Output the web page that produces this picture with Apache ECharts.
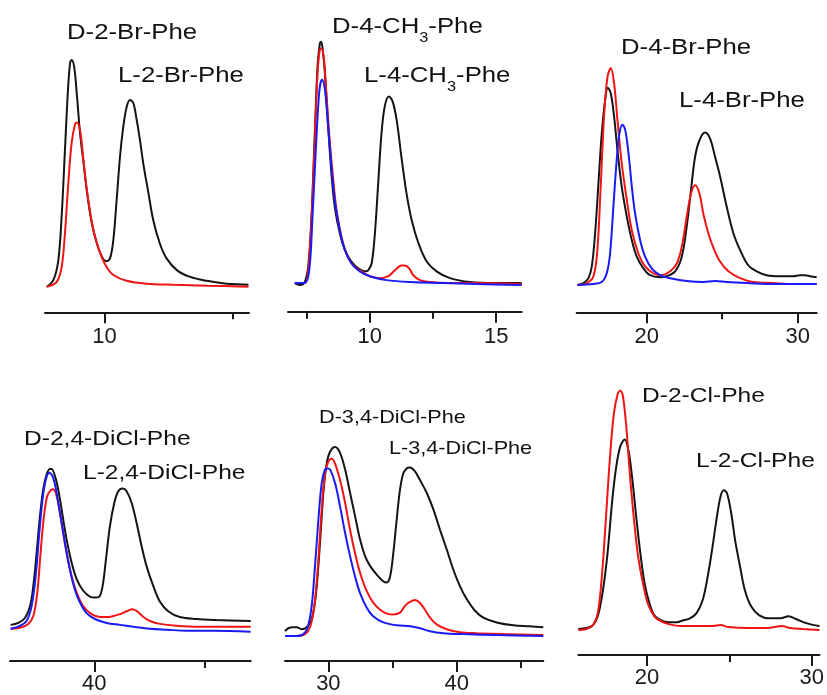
<!DOCTYPE html>
<html><head><meta charset="utf-8">
<script src="https://cdn.jsdelivr.net/npm/echarts@6/dist/echarts.min.js"></script>
<style>html,body{margin:0;padding:0;background:#fff}#c{width:827px;height:695px}</style>
</head><body><div id="c"></div>
<script>
// ---------- DATA (retention time, detector response) ----------
const p1Black = [[7.75,0],[8.01,7],[8.20,27],[8.33,72],[8.46,140],[8.57,198],[8.66,229],[8.72,232],[8.82,225],[8.92,198],[9.05,157],[9.18,128],[9.34,93],[9.51,65],[9.70,45],[9.90,31],[10.07,26],[10.22,29],[10.35,48],[10.48,89],[10.61,133],[10.74,164],[10.87,184],[11.00,191],[11.13,188],[11.26,171],[11.39,150],[11.52,126],[11.72,96],[11.91,68],[12.17,44],[12.43,29],[12.83,17],[13.35,10],[14.00,6],[14.78,3],[15.63,2]];
const p1Red = [[7.75,0],[8.14,5],[8.33,20],[8.46,55],[8.59,106],[8.72,147],[8.85,166],[8.92,168],[9.05,160],[9.18,130],[9.31,100],[9.51,66],[9.70,45],[9.90,30],[10.09,20],[10.35,12],[10.87,6],[11.65,3],[12.70,2],[14.00,1],[15.63,0]];

const p2Black = [[7.03,2],[7.23,0],[7.42,3],[7.56,19],[7.69,70],[7.82,155],[7.93,224],[8.02,247],[8.06,249],[8.12,244],[8.22,217],[8.35,162],[8.48,114],[8.61,80],[8.81,53],[9.01,36],[9.27,24],[9.54,17],[9.80,14],[9.93,15],[10.07,22],[10.20,53],[10.33,104],[10.46,155],[10.59,183],[10.75,193],[10.90,188],[11.06,169],[11.25,131],[11.45,94],[11.65,67],[11.92,43],[12.25,24],[12.64,14],[13.17,7],[13.96,3],[15.02,2],[16.01,2]];
const p2Red = [[7.03,2],[7.42,2],[7.56,15],[7.69,67],[7.82,148],[7.93,217],[8.02,241],[8.08,242],[8.18,232],[8.28,196],[8.41,148],[8.55,108],[8.68,77],[8.88,49],[9.08,32],[9.34,20],[9.67,14],[10.00,9],[10.40,7],[10.73,9],[10.99,15],[11.25,20],[11.39,20],[11.56,17],[11.72,10],[11.98,5],[12.38,3],[13.17,2],[14.23,2],[16.01,1]];
const p2Blue = [[7.03,2],[7.42,2],[7.60,15],[7.73,70],[7.86,138],[7.97,189],[8.04,206],[8.11,210],[8.22,200],[8.35,162],[8.48,121],[8.61,87],[8.81,56],[9.01,36],[9.27,22],[9.60,14],[10.00,9],[10.66,5],[11.59,3],[12.91,2],[14.23,1],[16.01,0]];

const p3Black = [[15.41,0],[15.81,2],[16.14,7],[16.36,19],[16.58,53],[16.80,104],[17.02,155],[17.24,189],[17.42,202],[17.62,196],[17.84,172],[18.06,138],[18.34,101],[18.68,70],[19.01,46],[19.34,29],[19.78,17],[20.22,10],[20.88,8],[21.32,9],[21.88,14],[22.32,29],[22.65,60],[22.91,94],[23.20,131],[23.49,148],[23.86,156],[24.19,150],[24.53,131],[24.86,111],[25.30,80],[25.74,53],[26.18,36],[26.73,20],[27.28,14],[27.95,10],[28.83,9],[29.71,9],[30.15,10],[30.49,10],[30.82,9],[31.26,8]];
const p3Red = [[15.41,0],[16.03,2],[16.47,9],[16.73,36],[16.95,101],[17.17,172],[17.40,213],[17.62,222],[17.84,206],[18.06,169],[18.34,125],[18.68,87],[19.01,56],[19.45,32],[19.89,19],[20.44,12],[20.99,10],[21.55,14],[21.99,22],[22.32,39],[22.65,70],[22.94,94],[23.20,102],[23.49,94],[23.75,73],[24.08,53],[24.42,38],[24.86,24],[25.41,14],[26.18,7],[27.06,3],[28.39,2],[29.71,1],[31.26,1]];
const p3Blue = [[15.41,0],[16.47,1],[17.02,3],[17.35,12],[17.57,32],[17.79,80],[18.01,128],[18.19,155],[18.39,164],[18.57,159],[18.79,135],[19.01,101],[19.23,73],[19.56,46],[19.89,29],[20.33,17],[20.88,10],[21.55,7],[22.65,4],[23.75,3],[24.53,4],[25.30,3],[26.62,2],[28.61,1],[31.26,1]];

const p4Black = [[36.20,8],[36.55,10],[36.85,15],[37.08,27],[37.23,48],[37.38,82],[37.53,119],[37.68,147],[37.83,162],[37.98,168],[38.06,168],[38.26,157],[38.44,137],[38.59,116],[38.74,96],[38.97,72],[39.20,55],[39.50,43],[39.80,37],[40.03,36],[40.23,37],[40.38,48],[40.53,75],[40.71,109],[40.91,133],[41.09,145],[41.29,148],[41.47,145],[41.70,133],[41.92,113],[42.15,89],[42.38,68],[42.68,48],[42.98,32],[43.36,22],[43.89,16],[44.65,14],[45.56,13],[47.11,12]];
const p4Red = [[36.20,4],[36.62,5],[37.00,9],[37.23,17],[37.41,41],[37.56,82],[37.71,119],[37.86,140],[38.02,146],[38.14,147],[38.29,140],[38.44,123],[38.59,102],[38.74,82],[38.97,58],[39.20,41],[39.50,27],[39.88,19],[40.26,16],[40.56,16],[40.86,17],[41.17,19],[41.47,22],[41.74,24],[42.00,21],[42.23,16],[42.53,12],[42.98,9],[43.74,7],[44.80,6],[47.11,6]];
const p4Blue = [[36.20,4],[36.62,7],[36.92,12],[37.15,27],[37.35,61],[37.50,102],[37.65,137],[37.80,157],[37.95,164],[38.11,160],[38.26,147],[38.44,123],[38.67,92],[38.89,65],[39.12,44],[39.35,31],[39.65,20],[40.03,14],[40.56,10],[41.17,8],[41.77,6],[42.53,4],[43.29,3],[44.20,2],[45.41,2],[47.11,1]];

const p5Black = [[26.62,5],[26.88,8],[27.22,9],[27.53,9],[27.92,7],[28.31,9],[28.70,17],[29.04,44],[29.35,96],[29.61,147],[29.87,177],[30.13,189],[30.52,194],[30.91,188],[31.30,171],[31.69,147],[32.08,123],[32.47,99],[32.86,82],[33.25,72],[33.77,63],[34.29,56],[34.55,55],[34.81,61],[35.06,85],[35.32,119],[35.58,150],[35.84,167],[36.10,172],[36.36,173],[36.75,169],[37.14,160],[37.66,147],[38.18,130],[38.70,109],[39.22,89],[39.74,68],[40.26,51],[40.78,38],[41.43,26],[42.08,19],[43.12,14],[44.42,11],[45.71,10],[46.75,9]];
const p5Red = [[26.62,0],[27.53,0],[28.18,2],[28.57,9],[28.91,31],[29.22,78],[29.48,130],[29.74,167],[30.00,179],[30.26,182],[30.52,177],[30.91,160],[31.30,137],[31.69,109],[32.08,85],[32.47,65],[32.99,46],[33.51,34],[34.03,27],[34.55,23],[35.06,22],[35.58,24],[35.97,31],[36.36,35],[36.75,37],[37.14,34],[37.53,27],[37.92,19],[38.44,12],[39.22,7],[40.26,4],[41.56,3],[43.64,2],[46.75,1]];
const p5Blue = [[26.62,0],[27.53,0],[28.05,2],[28.39,9],[28.70,31],[28.96,72],[29.22,119],[29.48,157],[29.74,171],[29.92,172],[30.13,171],[30.52,157],[30.91,133],[31.30,106],[31.69,82],[32.08,61],[32.47,44],[32.99,29],[33.51,20],[34.29,14],[35.32,11],[36.36,10],[37.14,8],[37.92,5],[38.96,3],[40.52,2],[43.12,1],[46.75,0]];

const p6Black = [[15.84,1],[16.33,2],[16.73,5],[17.02,14],[17.31,38],[17.61,78],[17.90,133],[18.14,167],[18.39,188],[18.65,195],[18.88,184],[19.12,154],[19.37,113],[19.63,75],[19.86,48],[20.16,27],[20.45,15],[20.84,10],[21.33,8],[21.82,8],[22.22,10],[22.61,12],[23.00,17],[23.39,31],[23.69,55],[23.98,85],[24.22,113],[24.47,137],[24.67,143],[24.86,140],[25.12,119],[25.35,92],[25.65,65],[25.94,41],[26.33,24],[26.82,15],[27.41,12],[28.10,12],[28.59,14],[29.08,11],[29.67,7],[30.47,4]];
const p6Red = [[15.84,0],[16.33,1],[16.73,5],[17.02,17],[17.27,55],[17.51,113],[17.75,174],[18.00,222],[18.24,242],[18.39,245],[18.55,239],[18.75,208],[18.98,157],[19.24,109],[19.47,75],[19.76,48],[20.06,27],[20.45,14],[20.84,9],[21.33,6],[22.02,4],[23.00,4],[23.98,4],[24.47,5],[24.96,3],[26.14,2],[27.31,2],[28.20,4],[28.69,2],[29.47,1],[30.47,0]];

// tick labels (major, labelled) and minor ticks
const p1Major = [10], p1Minor = [15];
const p2Major = [10, 15], p2Minor = [7.5, 12.5];
const p3Major = [20, 30], p3Minor = [25];
const p4Major = [40], p4Minor = [45];
const p5Major = [30, 40], p5Minor = [35, 45];
const p6Major = [20, 30], p6Minor = [25];

// peak labels
const p1Names = ['D-2-Br-Phe', 'L-2-Br-Phe'];
const p2Names = ['D-4-CH3-Phe', 'L-4-CH3-Phe'];
const p3Names = ['D-4-Br-Phe', 'L-4-Br-Phe'];
const p4Names = ['D-2,4-DiCl-Phe', 'L-2,4-DiCl-Phe'];
const p5Names = ['D-3,4-DiCl-Phe', 'L-3,4-DiCl-Phe'];
const p6Names = ['D-2-Cl-Phe', 'L-2-Cl-Phe'];

// ---------- LAYOUT / STYLE ----------
const COL = { black: '#141414', red: '#f01414', blue: '#1a1af5' };
const FONT = '"Liberation Sans", Arial, Helvetica, sans-serif';
const PX = 0.977; // pixels per response unit
const panels = [
  { left: 45,    right: 249,   top: 0,   axisY: 312.3, baseY: 286.7, xmin: 7.68,  xmax: 15.65, major: p1Major, minor: p1Minor,
    lines: [[p1Black, 'black'], [p1Red, 'red']], names: p1Names, fs: 22, pos: [[67, 33], [118, 76]], lm: 14 },
  { left: 288,   right: 521.7, top: 0,   axisY: 311.7, baseY: 285,   xmin: 6.76,  xmax: 16.01, major: p2Major, minor: p2Minor,
    lines: [[p2Black, 'black'], [p2Red, 'red'], [p2Blue, 'blue']], names: p2Names, fs: 22, pos: [[332, 27], [364, 76]], lm: 14 },
  { left: 576.7, right: 816.7, top: 0,   axisY: 312.3, baseY: 285,   xmin: 15.36, xmax: 31.26, major: p3Major, minor: p3Minor,
    lines: [[p3Black, 'black'], [p3Red, 'red'], [p3Blue, 'blue']], names: p3Names, fs: 22, pos: [[621, 48], [679, 101]], lm: 14 },
  { left: 10,    right: 250.7, top: 350, axisY: 661.7, baseY: 633.3, xmin: 36.17, xmax: 47.11, major: p4Major, minor: p4Minor,
    lines: [[p4Black, 'black'], [p4Red, 'red'], [p4Blue, 'blue']], names: p4Names, fs: 21, pos: [[24, 439], [83, 473]], lm: 12 },
  { left: 285,   right: 543.3, top: 350, axisY: 661.7, baseY: 636.7, xmin: 26.62, xmax: 46.75, major: p5Major, minor: p5Minor,
    lines: [[p5Black, 'black'], [p5Red, 'red'], [p5Blue, 'blue']], names: p5Names, fs: 18.5, pos: [[319, 418], [389, 449]], lm: 12 },
  { left: 578.3, right: 827,   top: 350, axisY: 655,   baseY: 630,   xmin: 15.84, xmax: 30.47, major: p6Major, minor: p6Minor,
    lines: [[p6Black, 'black'], [p6Red, 'red']], names: p6Names, fs: 21, pos: [[642, 396], [696, 461]], lm: 12 }
];

const grid = [], xAxis = [], yAxis = [], series = [], graphic = [];
panels.forEach((p, i) => {
  grid.push({ left: p.left, top: p.top, width: p.right - p.left, height: p.axisY - p.top, containLabel: false });
  yAxis.push({ type: 'value', gridIndex: i, show: false, min: -(p.axisY - p.baseY) / PX, max: (p.baseY - p.top) / PX });
  xAxis.push({
    type: 'value', gridIndex: i, position: 'bottom', min: p.xmin, max: p.xmax,
    axisLine: { show: true, onZero: false, lineStyle: { color: '#1a1a1a', width: 2 } },
    axisTick: { show: true, customValues: p.major, length: 11, lineStyle: { color: '#1a1a1a', width: 2 } },
    axisLabel: { show: true, customValues: p.major, margin: p.lm, fontSize: 22, color: '#1a1a1a', fontFamily: FONT,
      showMinLabel: true, showMaxLabel: true },
    splitLine: { show: false }
  });
  xAxis.push({
    type: 'value', gridIndex: i, position: 'bottom', min: p.xmin, max: p.xmax,
    axisLine: { show: false, onZero: false },
    axisTick: { show: true, customValues: p.minor, length: 7, lineStyle: { color: '#1a1a1a', width: 2 } },
    axisLabel: { show: false, customValues: p.minor },
    splitLine: { show: false }
  });
  p.lines.forEach(([data, c]) => {
    series.push({
      type: 'line', xAxisIndex: 2 * i, yAxisIndex: i, data: data, symbol: 'none', smooth: 0.35,
      clip: false, lineStyle: { color: COL[c], width: 2 }, silent: true
    });
  });
  p.names.forEach((name, k) => {
    let text, rich;
    if (name.indexOf('CH3') >= 0) {
      const parts = name.split('CH3');
      text = '{a|' + parts[0] + 'CH}{s|3}{a|' + parts[1] + '}';
      rich = { a: { fontSize: p.fs, fontFamily: FONT, fill: '#111' },
               s: { fontSize: 14, fontFamily: FONT, fill: '#111', padding: [22, 0, 0, 0] } };
    } else {
      text = name;
    }
    graphic.push({
      type: 'text', x: p.pos[k][0], y: p.pos[k][1], scaleX: 1.17, silent: true,
      style: Object.assign({ text: text, fontSize: p.fs, fontFamily: FONT, fill: '#111', align: 'left', verticalAlign: 'middle' },
        rich ? { rich: rich } : {})
    });
  });
});

const chart = echarts.init(document.getElementById('c'), null, { renderer: 'canvas' });
chart.setOption({ animation: false, backgroundColor: '#fff', grid, xAxis, yAxis, series, graphic });
</script></body></html>
